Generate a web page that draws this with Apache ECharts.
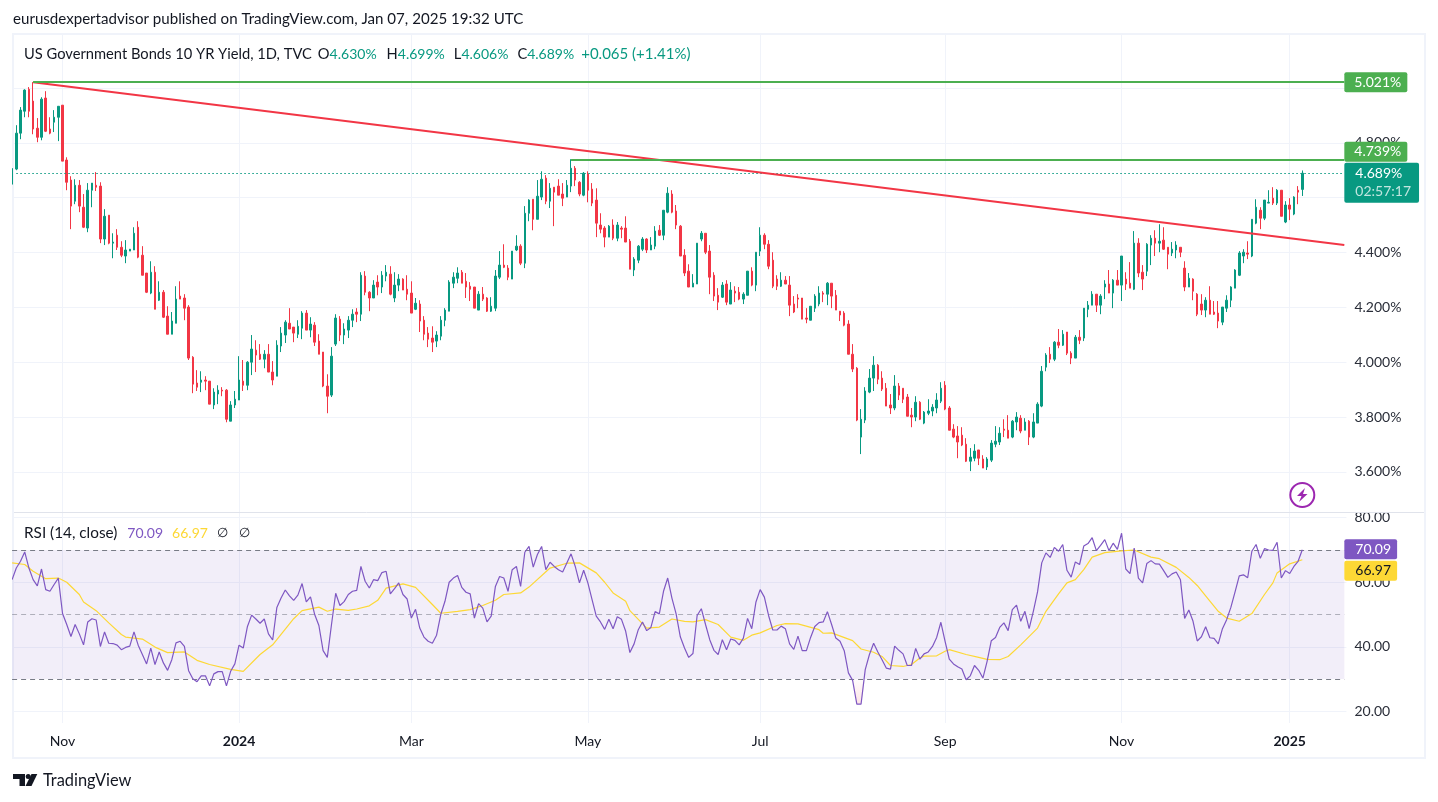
<!DOCTYPE html>
<html><head><meta charset="utf-8">
<style>html,body{margin:0;padding:0;background:#fff}#c{width:1438px;height:802px}</style>
<script src="https://cdn.jsdelivr.net/npm/echarts@6/dist/echarts.min.js"></script>
</head><body><div id="c"></div>
<script>
// Each row: open, high, low, close (first row is the clipped bar at the left edge)
const ohlc = [
[4.649,4.707,4.649,4.706],
[4.704,4.864,4.700,4.835],[4.835,4.930,4.813,4.919],[4.915,4.995,4.893,4.992],[4.995,5.003,4.893,4.915],[4.952,5.021,4.831,4.850],
[4.853,4.890,4.802,4.820],[4.820,4.966,4.809,4.959],[4.963,4.988,4.839,4.842],[4.850,4.893,4.831,4.835],[4.875,4.919,4.839,4.893],
[4.893,4.933,4.806,4.933],[4.937,4.937,4.733,4.733],[4.737,4.747,4.627,4.656],[4.664,4.678,4.485,4.569],[4.587,4.667,4.576,4.645],
[4.645,4.664,4.547,4.569],[4.565,4.613,4.489,4.492],[4.489,4.653,4.474,4.627],[4.627,4.653,4.565,4.653],[4.645,4.693,4.624,4.638],
[4.642,4.656,4.434,4.449],[4.449,4.558,4.427,4.532],[4.536,4.536,4.430,4.434],[4.434,4.470,4.379,4.438],[4.463,4.485,4.409,4.419],
[4.419,4.441,4.383,4.390],[4.387,4.445,4.361,4.409],[4.405,4.412,4.405,4.412],[4.409,4.492,4.409,4.470],[4.492,4.514,4.379,4.383],
[4.390,4.423,4.317,4.317],[4.325,4.325,4.252,4.255],[4.252,4.368,4.248,4.328],[4.328,4.350,4.193,4.193],[4.226,4.295,4.223,4.255],
[4.255,4.263,4.161,4.164],[4.168,4.204,4.102,4.102],[4.102,4.183,4.102,4.150],[4.142,4.277,4.142,4.230],[4.241,4.295,4.230,4.230],
[4.234,4.248,4.153,4.197],[4.201,4.208,4.008,4.015],[4.018,4.022,3.887,3.920],[3.924,3.971,3.895,3.909],[3.927,3.967,3.891,3.935],
[3.935,3.949,3.898,3.931],[3.931,3.931,3.847,3.847],[3.844,3.905,3.829,3.891],[3.884,3.916,3.847,3.898],[3.898,3.909,3.876,3.895],
[3.898,3.902,3.781,3.792],[3.785,3.858,3.785,3.844],[3.844,3.895,3.833,3.865],[3.862,4.022,3.862,3.935],[3.931,4.008,3.895,3.916],
[3.916,4.004,3.898,4.000],[4.000,4.099,3.953,4.048],[4.044,4.080,3.964,4.026],[4.029,4.066,4.008,4.011],[4.011,4.044,3.978,4.029],
[4.029,4.066,3.964,3.964],[3.964,4.004,3.916,3.935],[3.949,4.080,3.949,4.062],[4.059,4.128,4.037,4.106],[4.099,4.153,4.070,4.146],
[4.142,4.197,4.121,4.121],[4.128,4.128,4.073,4.106],[4.102,4.153,4.088,4.131],[4.124,4.186,4.084,4.179],[4.179,4.190,4.117,4.117],
[4.117,4.164,4.091,4.139],[4.135,4.146,4.059,4.073],[4.077,4.102,4.029,4.029],[4.037,4.037,3.909,3.913],[3.913,3.956,3.814,3.876],
[3.880,4.055,3.873,4.022],[4.066,4.175,4.059,4.161],[4.157,4.168,4.077,4.099],[4.099,4.142,4.066,4.121],[4.117,4.168,4.088,4.153],
[4.153,4.193,4.128,4.175],[4.183,4.197,4.146,4.175],[4.175,4.328,4.150,4.317],[4.314,4.332,4.244,4.255],[4.255,4.259,4.186,4.234],
[4.234,4.299,4.234,4.281],[4.292,4.317,4.244,4.274],[4.274,4.332,4.252,4.317],[4.314,4.354,4.295,4.328],[4.321,4.350,4.244,4.248],
[4.234,4.328,4.219,4.281],[4.281,4.321,4.259,4.303],[4.303,4.306,4.263,4.263],[4.266,4.317,4.226,4.248],[4.252,4.295,4.179,4.179],
[4.193,4.234,4.190,4.215],[4.212,4.226,4.110,4.150],[4.153,4.168,4.080,4.102],[4.106,4.128,4.055,4.084],[4.088,4.131,4.037,4.073],
[4.077,4.113,4.055,4.099],[4.095,4.168,4.080,4.153],[4.153,4.197,4.131,4.190],[4.186,4.299,4.186,4.292],[4.288,4.328,4.270,4.310],
[4.306,4.346,4.288,4.325],[4.328,4.336,4.288,4.288],[4.295,4.325,4.234,4.274],[4.277,4.292,4.223,4.266],[4.274,4.274,4.197,4.197],
[4.190,4.259,4.190,4.248],[4.248,4.274,4.223,4.230],[4.234,4.237,4.183,4.186],[4.186,4.237,4.183,4.204],[4.197,4.336,4.186,4.314],
[4.310,4.405,4.303,4.354],[4.354,4.430,4.343,4.346],[4.343,4.354,4.299,4.310],[4.303,4.405,4.303,4.405],[4.409,4.463,4.405,4.423],
[4.423,4.430,4.354,4.361],[4.361,4.569,4.343,4.543],[4.543,4.594,4.514,4.591],[4.594,4.594,4.481,4.521],[4.521,4.664,4.521,4.605],
[4.602,4.696,4.591,4.667],[4.671,4.682,4.576,4.587],[4.587,4.653,4.562,4.634],[4.638,4.638,4.496,4.620],[4.642,4.667,4.609,4.609],
[4.613,4.653,4.569,4.598],[4.602,4.664,4.602,4.645],[4.642,4.740,4.620,4.707],[4.707,4.715,4.642,4.664],[4.656,4.660,4.605,4.613],
[4.609,4.693,4.605,4.689],[4.686,4.696,4.583,4.627],[4.631,4.653,4.569,4.580],[4.591,4.634,4.456,4.507],[4.500,4.543,4.470,4.485],
[4.489,4.496,4.419,4.456],[4.456,4.500,4.456,4.496],[4.500,4.521,4.445,4.452],[4.452,4.511,4.441,4.500],[4.489,4.496,4.452,4.485],
[4.489,4.532,4.438,4.438],[4.441,4.449,4.339,4.339],[4.336,4.383,4.314,4.376],[4.372,4.427,4.361,4.423],[4.412,4.456,4.405,4.449],
[4.449,4.452,4.398,4.409],[4.409,4.456,4.409,4.427],[4.423,4.496,4.412,4.478],[4.481,4.500,4.460,4.463],[4.463,4.554,4.445,4.554],
[4.547,4.638,4.543,4.616],[4.613,4.627,4.543,4.547],[4.551,4.573,4.485,4.500],[4.496,4.500,4.387,4.387],[4.390,4.412,4.314,4.325],
[4.332,4.357,4.274,4.274],[4.274,4.321,4.274,4.288],[4.285,4.434,4.285,4.434],[4.449,4.478,4.441,4.470],[4.470,4.470,4.394,4.401],
[4.405,4.427,4.248,4.310],[4.317,4.328,4.223,4.241],[4.244,4.270,4.190,4.219],[4.237,4.292,4.234,4.281],[4.285,4.299,4.208,4.219],
[4.212,4.292,4.212,4.263],[4.259,4.277,4.219,4.252],[4.255,4.274,4.226,4.230],[4.230,4.255,4.212,4.248],[4.244,4.332,4.244,4.332],
[4.332,4.346,4.277,4.281],[4.281,4.401,4.259,4.401],[4.405,4.492,4.387,4.463],[4.463,4.470,4.412,4.430],[4.430,4.445,4.339,4.350],
[4.372,4.401,4.270,4.277],[4.303,4.317,4.263,4.277],[4.277,4.328,4.274,4.299],[4.299,4.314,4.285,4.285],[4.281,4.314,4.168,4.208],
[4.212,4.241,4.179,4.183],[4.234,4.248,4.197,4.230],[4.234,4.234,4.157,4.157],[4.161,4.197,4.142,4.157],[4.153,4.204,4.153,4.204],
[4.197,4.248,4.183,4.241],[4.212,4.277,4.204,4.252],[4.252,4.259,4.219,4.248],[4.248,4.292,4.208,4.288],[4.288,4.288,4.197,4.241],
[4.244,4.263,4.190,4.190],[4.186,4.186,4.150,4.172],[4.179,4.186,4.131,4.135],[4.139,4.153,4.029,4.029],[4.029,4.066,3.964,3.975],
[3.978,3.982,3.785,3.789],[3.727,3.829,3.665,3.792],[3.789,3.909,3.778,3.895],[3.891,3.975,3.887,3.942],[3.942,4.022,3.895,3.989],
[3.989,3.993,3.920,3.938],[3.942,3.967,3.895,3.902],[3.905,3.924,3.840,3.840],[3.844,3.884,3.811,3.833],[3.833,3.953,3.825,3.913],
[3.913,3.924,3.862,3.880],[3.905,3.905,3.851,3.865],[3.873,3.884,3.803,3.803],[3.807,3.833,3.763,3.800],[3.800,3.876,3.785,3.854],
[3.854,3.858,3.789,3.792],[3.778,3.822,3.774,3.818],[3.814,3.865,3.807,3.822],[3.822,3.847,3.803,3.836],[3.833,3.887,3.814,3.862],
[3.858,3.927,3.851,3.905],[3.916,3.931,3.825,3.829],[3.833,3.840,3.752,3.752],[3.756,3.774,3.723,3.727],[3.731,3.767,3.650,3.709],
[3.734,3.763,3.694,3.698],[3.701,3.723,3.636,3.639],[3.639,3.687,3.603,3.654],[3.650,3.701,3.639,3.676],[3.680,3.680,3.625,3.650],
[3.647,3.661,3.614,3.614],[3.618,3.654,3.607,3.647],[3.643,3.716,3.636,3.705],[3.701,3.767,3.690,3.712],[3.709,3.763,3.698,3.741],
[3.756,3.792,3.727,3.752],[3.752,3.807,3.723,3.723],[3.727,3.789,3.723,3.785],[3.782,3.818,3.752,3.800],[3.796,3.807,3.741,3.749],
[3.752,3.796,3.752,3.782],[3.785,3.789,3.698,3.727],[3.727,3.814,3.723,3.782],[3.778,3.854,3.778,3.847],[3.840,3.986,3.836,3.967],
[3.982,4.033,3.967,4.026],[4.029,4.055,3.997,4.011],[4.011,4.077,4.004,4.073],[4.073,4.121,4.051,4.062],[4.062,4.117,4.059,4.102],
[4.110,4.110,4.026,4.033],[4.033,4.040,3.993,4.015],[4.015,4.099,4.015,4.091],[4.091,4.117,4.066,4.080],[4.088,4.197,4.077,4.197],
[4.193,4.223,4.164,4.208],[4.208,4.259,4.208,4.248],[4.248,4.248,4.183,4.208],[4.208,4.248,4.175,4.241],[4.274,4.299,4.230,4.285],
[4.285,4.336,4.252,4.252],[4.252,4.303,4.197,4.299],[4.299,4.336,4.281,4.281],[4.281,4.387,4.223,4.387],[4.303,4.328,4.263,4.285],
[4.288,4.365,4.270,4.270],[4.266,4.478,4.263,4.434],[4.434,4.452,4.310,4.325],[4.328,4.354,4.263,4.303],[4.332,4.434,4.314,4.430],
[4.427,4.463,4.354,4.452],[4.452,4.481,4.387,4.434],[4.434,4.503,4.401,4.441],[4.445,4.492,4.409,4.412],[4.419,4.419,4.339,4.394],
[4.398,4.438,4.387,4.412],[4.409,4.441,4.379,4.427],[4.419,4.419,4.383,4.401],[4.343,4.368,4.259,4.274],[4.274,4.325,4.274,4.306],
[4.303,4.306,4.226,4.259],[4.248,4.252,4.168,4.175],[4.212,4.248,4.172,4.190],[4.190,4.237,4.164,4.226],[4.226,4.277,4.175,4.175],
[4.183,4.223,4.172,4.175],[4.179,4.223,4.124,4.150],[4.146,4.201,4.135,4.201],[4.197,4.244,4.183,4.226],[4.226,4.277,4.201,4.274],
[4.270,4.339,4.270,4.336],[4.317,4.405,4.314,4.398],[4.387,4.412,4.361,4.401],[4.398,4.441,4.376,4.394],[4.387,4.521,4.383,4.521],
[4.507,4.594,4.503,4.565],[4.554,4.565,4.485,4.525],[4.525,4.591,4.518,4.591],[4.580,4.627,4.580,4.583],[4.598,4.638,4.573,4.580],
[4.580,4.631,4.573,4.627],[4.627,4.627,4.532,4.532],[4.511,4.587,4.507,4.573],[4.573,4.598,4.518,4.558],[4.540,4.605,4.536,4.602],
[4.627,4.642,4.576,4.620],[4.630,4.699,4.606,4.689]
];
const rsi = [
60.8,64.4,66.5,69.4,64.4,60.8,58.9,64.1,57.7,57.2,59.3,61.3,50.3,46.9,43.2,46.9,44.0,40.6,47.7,48.7,48.3,40.1,44.6,41.1,41.0,40.5,39.1,39.8,40.2,44.6,
40.5,37.6,34.7,39.6,34.5,38.4,35.0,32.7,36.0,41.2,41.7,40.1,32.6,30.1,29.2,31.0,31.0,27.9,31.6,32.3,32.3,27.9,32.4,34.7,40.5,39.6,46.3,49.8,48.6,47.3,
48.6,44.0,42.1,52.2,55.1,57.6,55.8,54.4,56.0,59.6,53.9,55.5,50.0,46.6,38.8,36.7,46.9,56.6,52.8,54.0,56.2,57.2,57.5,64.9,60.3,58.2,60.8,60.5,63.0,63.4,
56.4,58.0,59.8,56.2,54.8,48.9,51.6,45.8,43.0,41.7,41.1,43.6,50.0,54.1,60.0,61.3,62.1,58.4,56.9,56.4,48.9,53.4,52.0,47.7,49.5,58.7,61.8,61.3,57.2,63.9,
64.9,58.7,69.3,71.1,64.7,68.6,71.1,63.9,66.2,64.9,63.9,63.2,66.0,68.8,64.9,59.8,63.7,59.8,54.6,49.5,47.7,45.4,48.5,45.6,49.3,48.5,44.8,38.2,40.9,45.3,
47.7,45.0,46.0,50.9,50.2,57.2,61.3,55.1,50.2,43.1,39.6,36.7,37.9,49.7,51.8,46.9,42.2,38.9,37.6,42.2,39.1,42.4,42.0,40.6,42.7,48.8,45.6,53.9,57.7,55.4,
49.7,45.2,45.2,46.4,45.6,40.9,39.2,43.3,38.8,38.8,42.9,46.3,47.5,47.7,50.9,46.9,42.7,41.7,38.8,31.9,29.6,22.2,22.2,32.9,37.6,41.1,38.4,36.0,33.4,33.1,
40.2,38.9,37.8,34.2,34.2,39.5,36.2,37.8,38.4,40.1,42.9,47.6,41.7,36.2,34.7,33.8,33.1,29.8,31.0,34.2,32.7,30.3,35.5,41.9,42.9,46.0,47.4,45.0,51.5,52.9,
47.9,51.0,45.6,51.0,57.0,66.0,69.1,67.7,70.8,69.6,71.7,63.7,61.6,66.3,65.5,71.2,72.0,73.8,69.8,71.4,73.2,69.8,72.1,70.2,75.2,64.1,62.7,70.6,61.3,59.8,
65.8,66.7,65.7,65.6,63.6,61.5,62.6,63.2,60.8,48.8,51.4,47.9,41.8,43.1,46.2,42.8,42.6,40.9,45.6,48.4,52.2,57.0,62.0,62.3,61.4,69.6,71.7,67.4,70.4,70.0,
69.9,72.4,61.3,63.6,62.7,64.9,66.5,70.09
];
const rsiMaAt = [0,3,5,8,11,13,16,17,20,23,26,27,31,34,37,41,44,47,52,55,59,62,67,69,73,75,77,80,82,85,87,89,93,96,100,102,106,109,112,115,117,121,123,128,132,135,139,141,143,146,147,151,154,157,160,162,165,168,171,174,176,178,182,184,187,192,193,195,200,202,205,207,209,212,214,216,217,220,222,223,227,230,232,235,237,240,244,246,249,251,253,255,257,260,264,267,271,273,277,280,282,284,287,289,292,295,298,300,301,304,307];
const rsiMaVal = [66.0,65.5,63.4,61.1,61.3,60.0,56.2,53.9,51.2,47.4,43.8,43.0,42.4,39.9,38.2,38.4,35.8,34.5,33.0,32.4,37.6,40.6,48.7,51.2,52.3,51.0,51.7,51.3,51.7,52.7,54.4,58.2,59.5,58.4,53.1,50.4,51.0,51.5,52.8,54.4,56.2,56.7,58.5,64.4,65.9,66.0,62.9,60.0,56.7,54.1,51.2,45.8,46.1,48.6,47.9,47.7,48.4,46.9,43.0,42.0,43.6,44.3,46.6,47.2,47.1,45.3,44.2,44.3,41.9,39.3,38.3,37.0,34.2,33.9,34.5,36.5,37.1,37.2,38.6,39.1,37.6,36.7,36.1,36.0,37.0,40.6,45.8,51.0,56.4,59.8,60.8,63.9,67.8,69.2,69.7,70.0,67.8,67.3,64.6,61.5,59.0,55.8,51.0,48.9,47.9,50.3,56.2,59.8,62.9,65.7,66.97];
const tickAt = [12,54,95,137,178,222,264,304];
const tickNames = ['Nov','2024','Mar','May','Jul','Sep','Nov','2025'];
const priceTicks = [3.6,3.8,4.0,4.2,4.4,4.6,4.8,5.0];
const rsiTicks = [20,40,60,80];
const rsiLevels = [70,50,30];
const oversoldAt = [200,201,202,203];
const oversoldVal = [30,22.2,22.2,30];
const resistanceHigh = 5.021, resistanceLow = 4.739, lastClose = 4.689;
const trendStart = 5.021, trendEnd = 4.427;

const FONT = 'Lato', TXT = 15.1;
const UP = '#089981', DOWN = '#f23645', GREEN = '#4caf50', PURPLE = '#7e57c2', YELLOW = '#fdd835', INK = '#131722';
const pitch = 4.2026, nCat = 318, endIdx = nCat - 1;
const cats = Array.from({length:nCat}, (_, i) => { const k = tickAt.indexOf(i); return k < 0 ? '' : tickNames[k]; });
const labelled = (i, v) => v !== '';
const gridLine = {show:true, alignWithLabel:true, interval:labelled, lineStyle:{color:'#f0f3fa', width:1}};
const tag = (v, text, bg, color, offset, pad) => ({
  coord:[endIdx, v], value:v,
  label:{show:true, position:'right', distance:0, formatter:text, backgroundColor:bg, color:color, fontFamily:FONT, fontSize:14,
         padding:pad || [3,6,3,10], borderRadius:2, offset:[0,offset]}
});
const chart = echarts.init(document.getElementById('c'));
const rt = (c, size, left) => ({fontFamily:FONT, fontSize:size, fontWeight:'normal', color:c, padding:[0,0,0,left || 0]});
chart.setOption({
  animation:false, backgroundColor:'#fff',
  textStyle:{fontFamily:FONT},
  title:[
    {left:13, top:11.5, padding:0, text:'eurusdexpertadvisor published on TradingView.com, Jan 07, 2025 19:32 UTC', textStyle:{fontFamily:FONT,fontSize:TXT,fontWeight:'normal',color:INK}},
    {left:24, top:46.5, padding:0, text:'{d|US Government Bonds 10 YR Yield, 1D, TVC}{o|O}{g|4.630%}{h|H}{g|4.699%}{l|L}{g|4.606%}{c|C}{g|4.689%}{w|+0.065 (+1.41%)}',
     textStyle:{fontWeight:'normal',rich:{d:rt(INK,14.7),o:rt(INK,14.7,6),h:rt(INK,14.7,10),l:rt(INK,14.7,9),c:rt(INK,14.7,9),g:rt(UP,14),w:rt(UP,15,7)}}},
    {left:24, top:525.5, padding:0, text:'{d|RSI (14, close)}{p|70.09}{y|66.97}{z|∅}{x|∅}',
     textStyle:{fontWeight:'normal',rich:{d:rt(INK,15.3),p:rt(PURPLE,14,10),y:rt(YELLOW,14,9),z:rt(INK,13,9),x:rt(INK,13,11)}}},
    {left:43, top:773, padding:0, text:'TradingView', textStyle:{fontFamily:FONT,fontSize:16.4,fontWeight:'normal',color:INK}}
  ],
  grid:[
    {left:10, top:34.6, width:pitch*nCat, height:477.7},
    {left:10, top:513, width:pitch*nCat, height:210}
  ],
  xAxis:[
    {type:'category', gridIndex:0, data:cats, axisLine:{show:false}, axisTick:{show:false}, axisLabel:{show:false}, splitLine:gridLine},
    {type:'category', gridIndex:1, data:cats, axisLine:{show:false}, axisTick:{show:false}, splitLine:gridLine,
     axisLabel:{show:true, interval:labelled, margin:11, fontSize:14, fontFamily:FONT, color:INK, hideOverlap:false,
       formatter:v => /^\d+$/.test(v) ? '{b|'+v+'}' : v, rich:{b:{fontWeight:'bold',fontSize:14,fontFamily:FONT,color:INK}}}}
  ],
  yAxis:[
    {type:'value', gridIndex:0, position:'right', min:3.4528, max:5.1943, axisLine:{show:false},
     axisTick:{show:false, customValues:priceTicks},
     axisLabel:{customValues:priceTicks, margin:8, fontSize:14, fontFamily:FONT, color:'#2a2e39', formatter:v => v.toFixed(3)+'%'},
     splitLine:{show:true, lineStyle:{color:'#f0f3fa', width:1}}},
    {type:'value', gridIndex:1, position:'right', min:16.38, max:81.46, axisLine:{show:false},
     axisTick:{show:false, customValues:rsiTicks},
     axisLabel:{customValues:rsiTicks, margin:8, fontSize:14, fontFamily:FONT, color:'#2a2e39', formatter:v => v.toFixed(2)},
     splitLine:{show:true, lineStyle:{color:'#f0f3fa', width:1}}}
  ],
  series:[
    {type:'candlestick', name:'US10Y', xAxisIndex:0, yAxisIndex:0, barWidth:2, z:3,
     itemStyle:{color:UP, color0:DOWN, borderColor:UP, borderColor0:DOWN, borderWidth:1},
     data:ohlc.map(r => [r[0], r[3], r[2], r[1]]),
     markLine:{silent:true, symbol:'none', label:{show:false}, z:4, data:[
       [{xAxis:1,yAxis:lastClose,lineStyle:{color:UP,width:1.2,type:[1.5,2.5]}},{xAxis:endIdx,yAxis:lastClose}],
       [{xAxis:5,yAxis:trendStart,lineStyle:{color:DOWN,width:2,type:'solid'}},{xAxis:endIdx,yAxis:trendEnd}],
       [{xAxis:5,yAxis:resistanceHigh,lineStyle:{color:GREEN,width:2,type:'solid'}},{xAxis:endIdx,yAxis:resistanceHigh}],
       [{xAxis:133,yAxis:resistanceLow,lineStyle:{color:GREEN,width:2,type:'solid'}},{xAxis:endIdx,yAxis:resistanceLow}]
     ]},
     markPoint:{silent:true, symbol:'circle', symbolSize:0, z:20, data:[
       tag(resistanceHigh,'5.021%',GREEN,'#fff',0),
       tag(lastClose,'{p|4.689%}\n{t|02:57:17}',UP,'#fff',9.5,[2,8,2,11]),
       tag(resistanceLow,'4.739%',GREEN,'#fff',-7.7)
     ].map(d => { if (d.value === lastClose) d.label.rich = {p:{color:'#fff',fontSize:14,fontFamily:FONT,lineHeight:18},t:{color:'rgba(255,255,255,.75)',fontSize:14,fontFamily:FONT,lineHeight:18}}; return d; })}
    },
    {type:'line', name:'RSI', xAxisIndex:1, yAxisIndex:1, data:rsi, showSymbol:false, symbol:'none', z:5, lineStyle:{color:PURPLE,width:1.2}, itemStyle:{color:PURPLE},
     markArea:{silent:true, z:1, itemStyle:{color:'rgba(126,87,194,0.1)'}, data:[[{xAxis:0,yAxis:rsiLevels[0]},{xAxis:endIdx,yAxis:rsiLevels[2]}]]},
     markLine:{silent:true, symbol:'none', label:{show:false}, z:2, data:rsiLevels.map((v,i) => [
       {xAxis:0,yAxis:v,lineStyle:{color:i===1?'rgba(120,123,134,.55)':'#787b86',width:1,type:[5,4]}},{xAxis:endIdx,yAxis:v}])},
     markPoint:{silent:true, symbol:'circle', symbolSize:0, z:20, data:[
       tag(rsi[rsi.length-1],'70.09',PURPLE,'#fff',-0.5,[3,6,3,11]),
       tag(rsiMaVal[rsiMaVal.length-1],'66.97',YELLOW,INK,11,[3,6,3,11])
     ]}
    },
    {type:'line', name:'RSI MA', xAxisIndex:1, yAxisIndex:1, data:rsiMaAt.map((x,i) => [x, rsiMaVal[i]]), showSymbol:false, symbol:'none', z:4, lineStyle:{color:YELLOW,width:1.2}, itemStyle:{color:YELLOW}},
    {type:'line', name:'oversold', xAxisIndex:1, yAxisIndex:1, data:oversoldAt.map((x,i) => [x, oversoldVal[i]]), showSymbol:false, symbol:'none', z:3, lineStyle:{width:0},
     areaStyle:{origin:30, color:new echarts.graphic.LinearGradient(0,0,0,1,[{offset:0,color:'rgba(242,54,69,0.02)'},{offset:1,color:'rgba(242,54,69,0.2)'}])}}
  ],
  graphic:{elements:[
    {type:'rect', z:0, silent:true, shape:{x:13,y:34,width:1412,height:724}, style:{fill:'none',stroke:'#f0f3fa',lineWidth:2}},
    {type:'line', z:50, silent:true, shape:{x1:14,y1:512.5,x2:1424,y2:512.5}, style:{stroke:'#e0e3eb',lineWidth:1}},
    {type:'rect', z:50, silent:true, shape:{x:0,y:35,width:12,height:700}, style:{fill:'#fff'}},
    {type:'circle', z:50, silent:true, shape:{cx:1302.3,cy:495,r:12}, style:{fill:'#fff',stroke:'#9c27b0',lineWidth:2}},
    {type:'polygon', z:51, silent:true, shape:{points:[[1305,488],[1297,496],[1301.5,496],[1299,502],[1307.5,494],[1303,494]]}, style:{fill:'#9c27b0'}},
    {type:'polygon', z:50, silent:true, shape:{points:[[13,774],[25,774],[25,786],[19.5,786],[19.5,779],[13,779]]}, style:{fill:INK}},
    {type:'circle', z:50, silent:true, shape:{cx:28.2,cy:776.5,r:2.5}, style:{fill:INK}},
    {type:'polygon', z:50, silent:true, shape:{points:[[31.5,774],[37.3,774],[31.5,786],[25.5,786]]}, style:{fill:INK}}
  ]}
});
</script></body></html>
